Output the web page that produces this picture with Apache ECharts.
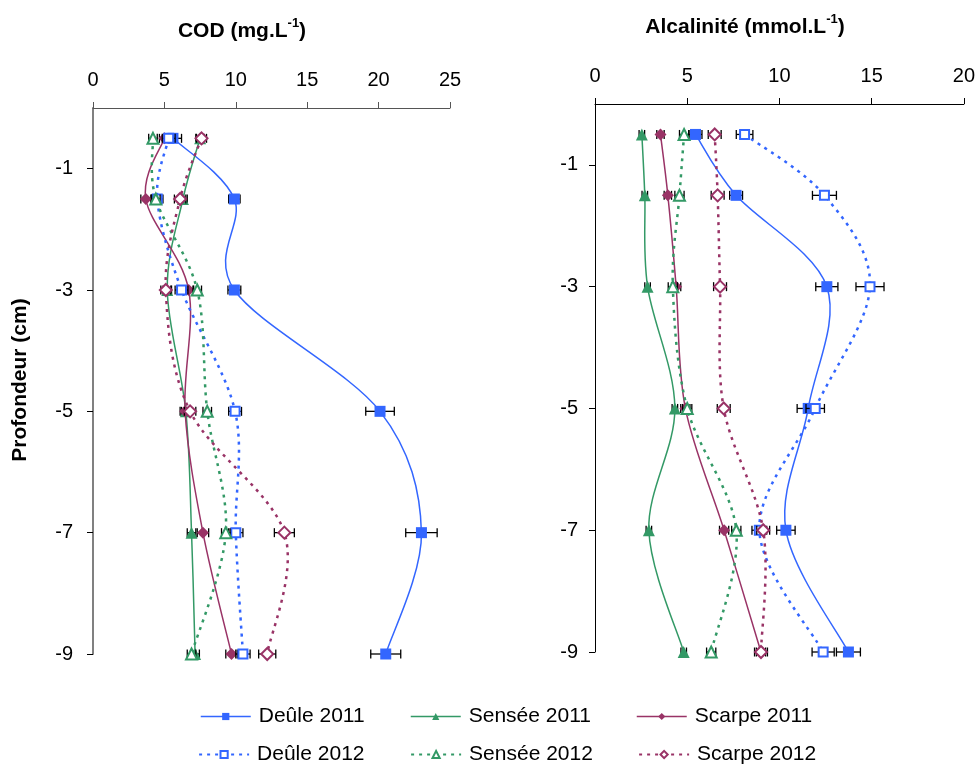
<!DOCTYPE html>
<html>
<head>
<meta charset="utf-8">
<script src="https://cdn.jsdelivr.net/npm/echarts@6/dist/echarts.min.js"></script>
<style>
html,body{margin:0;padding:0;background:#fff;}
#chart{width:978px;height:766px;}
</style>
</head>
<body>
<div id="chart"></div>
<script>
// ---- Data ----
const depths = [-0.5, -1.5, -3, -5, -7, -9];
const yTicks = [-1, -3, -5, -7, -9];
const codTicks = [0, 5, 10, 15, 20, 25];
const alkTicks = [0, 5, 10, 15, 20];
const seriesNames = ['Deûle 2011', 'Sensée 2011', 'Scarpe 2011', 'Deûle 2012', 'Sensée 2012', 'Scarpe 2012'];

// COD (mg.L-1)
const codDeule2011 = [5.6, 9.9, 9.9, 20.1, 23.0, 20.5];
const codSensee2011 = [7.5, 6.3, 5.2, 6.5, 6.9, 7.15];
const codScarpe2011 = [5.0, 3.7, 6.7, 6.45, 7.7, 9.7];
const codDeule2012 = [5.3, 4.5, 6.2, 9.95, 10.0, 10.5];
const codSensee2012 = [4.2, 4.4, 7.3, 8.0, 9.3, 6.9];
const codScarpe2012 = [7.6, 6.1, 5.1, 6.8, 13.4, 12.2];

const codDeule2011Err = [0.6, 0.4, 0.45, 1.0, 1.1, 1.05];
const codSensee2011Err = [0.3, 0.3, 0.3, 0.3, 0.3, 0.3];
const codScarpe2011Err = [0.35, 0.35, 0.35, 0.35, 0.4, 0.4];
const codDeule2012Err = [0.45, 0.4, 0.45, 0.45, 0.5, 0.5];
const codSensee2012Err = [0.3, 0.3, 0.3, 0.3, 0.3, 0.3];
const codScarpe2012Err = [0.35, 0.4, 0.35, 0.4, 0.7, 0.6];

// Alcalinité (mmol.L-1)
const alkDeule2011 = [5.45, 7.65, 12.57, 11.56, 10.35, 13.74];
const alkSensee2011 = [2.54, 2.70, 2.85, 4.33, 2.92, 4.81];
const alkScarpe2011 = [3.55, 3.95, 4.40, 4.9, 7.0, 9.0];
const alkDeule2012 = [8.11, 12.44, 14.91, 11.94, 8.91, 12.37];
const alkSensee2012 = [4.83, 4.58, 4.22, 5.0, 7.66, 6.3];
const alkScarpe2012 = [6.49, 6.65, 6.78, 6.98, 9.12, 9.0];

const alkDeule2011Err = [0.35, 0.35, 0.6, 0.6, 0.5, 0.65];
const alkSensee2011Err = [0.15, 0.15, 0.15, 0.15, 0.15, 0.15];
const alkScarpe2011Err = [0.2, 0.2, 0.25, 0.25, 0.25, 0.25];
const alkDeule2012Err = [0.45, 0.65, 0.76, 0.5, 0.4, 0.6];
const alkSensee2012Err = [0.25, 0.25, 0.25, 0.25, 0.25, 0.25];
const alkScarpe2012Err = [0.35, 0.35, 0.35, 0.35, 0.35, 0.35];

// ---- Styles ----
const BLUE = '#3366FF', GREEN = '#339966', MAROON = '#993366';
const styles = [
  {color: BLUE, symbol: 'rect', size: 11, dash: null, width: 1.5},
  {color: GREEN, symbol: 'triangle', size: 12, dash: null, width: 1.5},
  {color: MAROON, symbol: 'diamond', size: 12, dash: null, width: 1.5},
  {color: BLUE, symbol: 'emptyRect', size: 9, dash: [3, 5], width: 2.5},
  {color: GREEN, symbol: 'emptyTriangle', size: 11, dash: [3, 5], width: 2.5},
  {color: MAROON, symbol: 'emptyDiamond', size: 12, dash: [3, 5], width: 2.5}
];

const codSets = [codDeule2011, codSensee2011, codScarpe2011, codDeule2012, codSensee2012, codScarpe2012];
const codErrs = [codDeule2011Err, codSensee2011Err, codScarpe2011Err, codDeule2012Err, codSensee2012Err, codScarpe2012Err];
const alkSets = [alkDeule2011, alkSensee2011, alkScarpe2011, alkDeule2012, alkSensee2012, alkScarpe2012];
const alkErrs = [alkDeule2011Err, alkSensee2011Err, alkScarpe2011Err, alkDeule2012Err, alkSensee2012Err, alkScarpe2012Err];

const FONT = 'Liberation Sans, Arial, sans-serif';

// Smoothed (Catmull-Rom style, like spreadsheet smoothed lines) curve through the library's coordinates
function curveSeries(vals, st, axisIdx, z) {
  return {
    type: 'custom',
    xAxisIndex: axisIdx, yAxisIndex: axisIdx,
    silent: true, z: z,
    data: [[vals[0], depths[0]]],
    encode: {x: 0, y: 1},
    renderItem: function (params, api) {
      const pts = vals.map((v, i) => api.coord([v, depths[i]]));
      const n = pts.length;
      let d = 'M' + pts[0][0] + ' ' + pts[0][1];
      for (let i = 0; i < n - 1; i++) {
        const p0 = pts[Math.max(i - 1, 0)], p1 = pts[i], p2 = pts[i + 1], p3 = pts[Math.min(i + 2, n - 1)];
        const c1x = p1[0] + (p2[0] - p0[0]) / 6, c1y = p1[1] + (p2[1] - p0[1]) / 6;
        const c2x = p2[0] - (p3[0] - p1[0]) / 6, c2y = p2[1] - (p3[1] - p1[1]) / 6;
        d += ' C' + c1x + ' ' + c1y + ' ' + c2x + ' ' + c2y + ' ' + p2[0] + ' ' + p2[1];
      }
      return {
        type: 'path',
        shape: {pathData: d},
        style: {fill: 'none', stroke: st.color, lineWidth: st.width, lineDash: st.dash}
      };
    }
  };
}

function errorSeries(vals, errs, axisIdx, z) {
  return {
    type: 'custom',
    xAxisIndex: axisIdx, yAxisIndex: axisIdx,
    silent: true, z: z,
    data: vals.map((v, i) => [v, depths[i], errs[i]]),
    encode: {x: 0, y: 1},
    renderItem: function (params, api) {
      const x = api.value(0), y = api.value(1), e = api.value(2);
      const p0 = api.coord([x - e, y]);
      const p1 = api.coord([x + e, y]);
      const h = 4.5;
      const st = {stroke: '#000', lineWidth: 1.3};
      return {
        type: 'group',
        children: [
          {type: 'line', shape: {x1: p0[0], y1: p0[1], x2: p1[0], y2: p1[1]}, style: st},
          {type: 'line', shape: {x1: p0[0], y1: p0[1] - h, x2: p0[0], y2: p0[1] + h}, style: st},
          {type: 'line', shape: {x1: p1[0], y1: p1[1] - h, x2: p1[0], y2: p1[1] + h}, style: st}
        ]
      };
    }
  };
}

function markerSeries(name, vals, st, axisIdx, z) {
  return {
    name: name,
    type: 'line',
    xAxisIndex: axisIdx, yAxisIndex: axisIdx,
    data: vals.map((v, i) => [v, depths[i]]),
    symbol: st.symbol,
    symbolSize: st.size,
    showAllSymbol: true,
    z: z,
    itemStyle: {color: st.color, borderWidth: st.symbol.indexOf('empty') === 0 ? 1.5 : 0},
    lineStyle: {color: st.color, width: st.width, type: st.dash || 'solid', opacity: 0},
    emphasis: {disabled: true},
    animation: false
  };
}

const series = [];
[[codSets, codErrs, 0], [alkSets, alkErrs, 1]].forEach(([sets, errs, ax]) => {
  sets.forEach((vals, k) => {
    series.push(curveSeries(vals, styles[k], ax, 2 + k * 3));
    series.push(errorSeries(vals, errs[k], ax, 3 + k * 3));
    series.push(markerSeries(seriesNames[k], vals, styles[k], ax, 4 + k * 3));
  });
});

const legendPos = [
  {left: 200, top: 706}, {left: 410, top: 706}, {left: 636, top: 706},
  {left: 198, top: 744}, {left: 410, top: 744}, {left: 638, top: 744}
];
const legends = seriesNames.map((n, i) => ({
  data: [n],
  left: legendPos[i].left, top: legendPos[i].top,
  itemWidth: 50, itemHeight: 9, itemGap: 0,
  padding: 0,
  selectedMode: false,
  lineStyle: {opacity: 1, width: i < 3 ? 1.5 : 2.2},
  textStyle: {fontSize: 21, fontFamily: FONT, color: '#000', padding: [0, 0, 0, 3]}
}));

function xAxisCfg(gridIdx, max, lineColor) {
  return {
    type: 'value', gridIndex: gridIdx, position: 'top',
    min: 0, max: max, interval: 5,
    axisLine: {show: true, lineStyle: {color: lineColor, width: 1}},
    axisTick: {show: true, inside: false, length: 6, lineStyle: {color: lineColor}},
    axisLabel: {fontSize: 20, fontFamily: FONT, color: '#000', margin: 18},
    splitLine: {show: false}
  };
}
function yAxisCfg(gridIdx, lineColor, lw, margin) {
  return {
    type: 'value', gridIndex: gridIdx,
    min: -9, max: 0,
    axisLine: {show: true, onZero: false, lineStyle: {color: lineColor, width: lw}},
    axisTick: {show: true, inside: false, length: 6, customValues: yTicks, lineStyle: {color: '#000', width: 1}},
    axisLabel: {fontSize: 20, fontFamily: FONT, color: '#000', margin: margin, customValues: yTicks},
    splitLine: {show: false}
  };
}

const titleRich = {
  a: {fontSize: 21, fontWeight: 'bold', fontFamily: FONT, color: '#000', lineHeight: 28},
  s: {fontSize: 13, fontWeight: 'bold', fontFamily: FONT, color: '#000', verticalAlign: 'top', lineHeight: 28, padding: [0, 0, 10, 0]}
};

const option = {
  animation: false,
  backgroundColor: '#fff',
  grid: [
    {left: 93, top: 108, width: 357, height: 546},
    {left: 595, top: 104, width: 370, height: 548}
  ],
  xAxis: [xAxisCfg(0, 25, '#555'), xAxisCfg(1, 20, '#000')],
  yAxis: [yAxisCfg(0, '#808080', 2, 20), yAxisCfg(1, '#000', 1, 17)],
  legend: legends,
  graphic: [
    {
      type: 'text', x: 242, y: 31,
      style: {text: '{a|COD (mg.L}{s|-1}{a|)}', align: 'center', verticalAlign: 'middle', rich: titleRich}
    },
    {
      type: 'text', x: 745, y: 27,
      style: {text: '{a|Alcalinité (mmol.L}{s|-1}{a|)}', align: 'center', verticalAlign: 'middle', rich: titleRich}
    },
    {
      type: 'text', x: 20, y: 380, rotation: Math.PI / 2,
      style: {
        text: 'Profondeur (cm)', align: 'center', verticalAlign: 'middle',
        fontSize: 21, fontWeight: 'bold', fontFamily: FONT, fill: '#000'
      }
    }
  ],
  series: series
};

const chart = echarts.init(document.getElementById('chart'), null, {renderer: 'canvas'});
chart.setOption(option);
</script>
</body>
</html>
